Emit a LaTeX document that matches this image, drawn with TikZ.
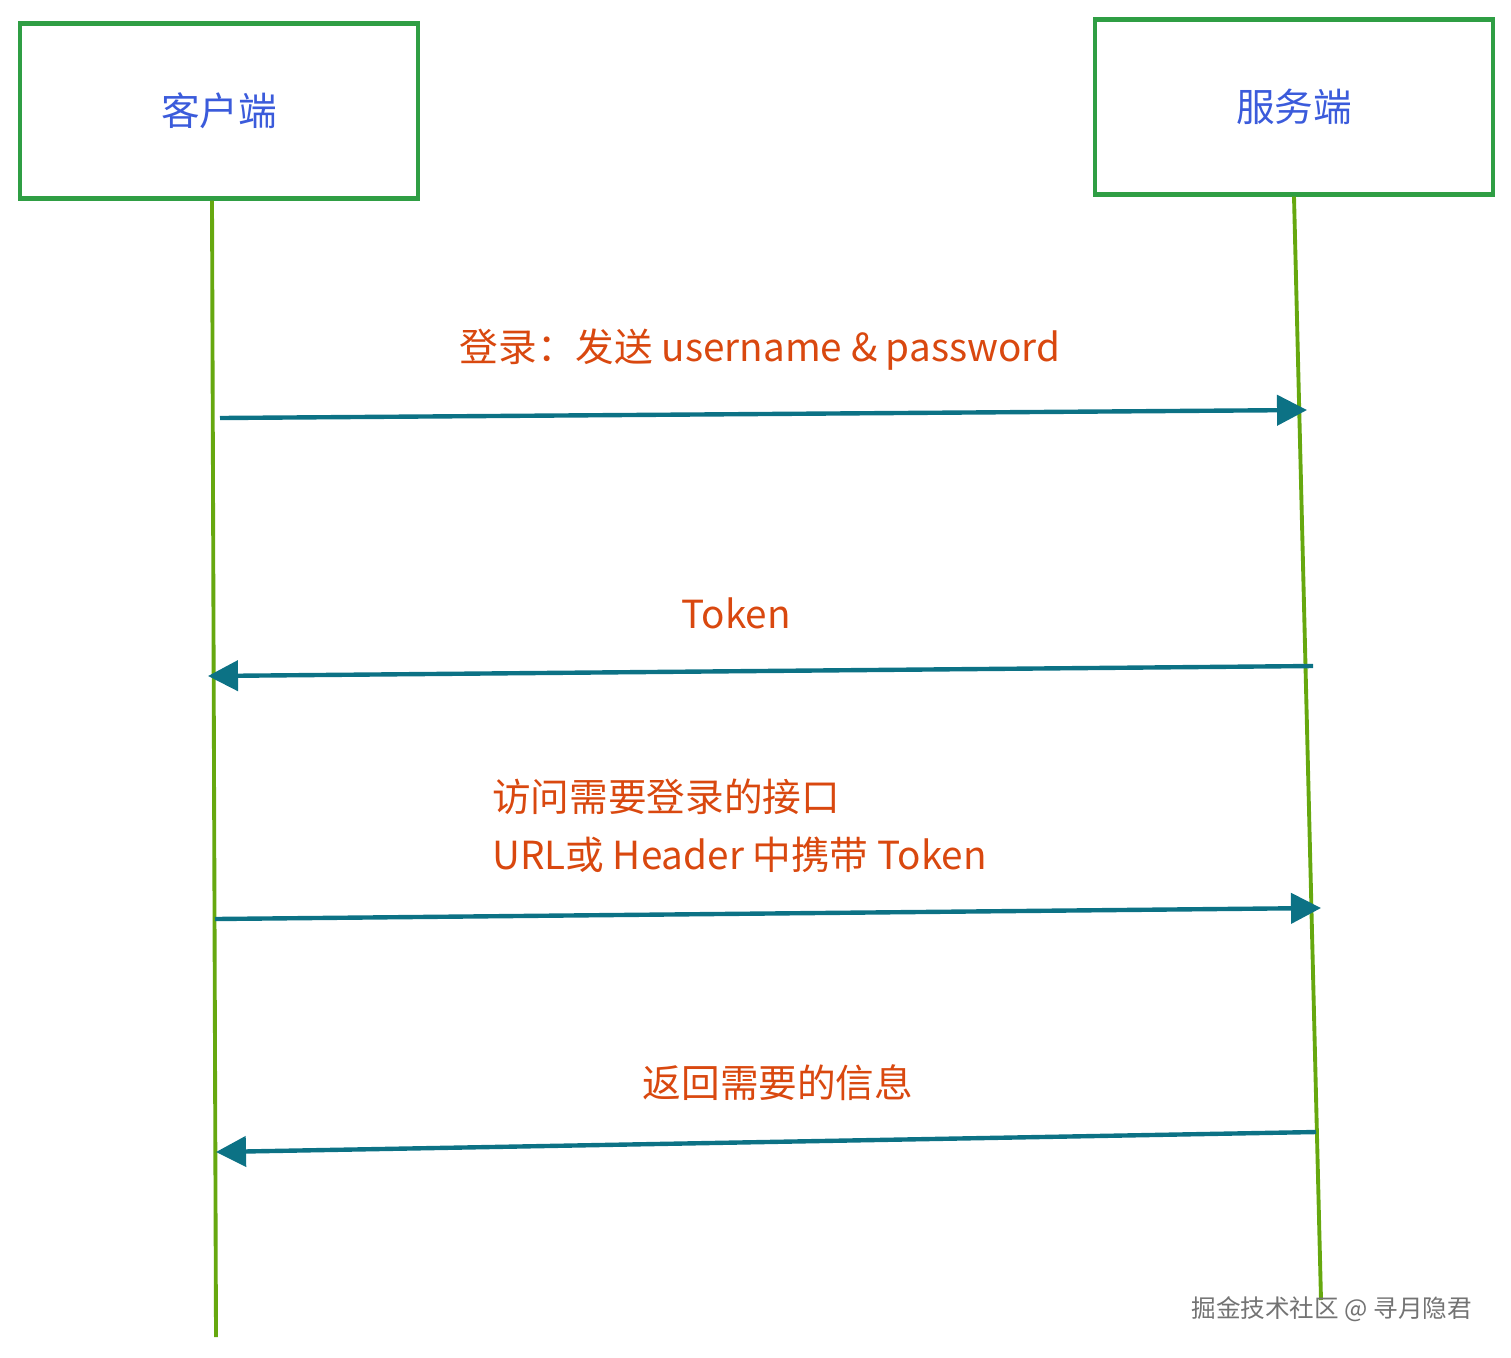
\documentclass[tikz,border=0pt]{standalone}
\usepackage{fontspec}
\setmainfont{Noto Sans CJK SC}
\usetikzlibrary{arrows.meta}
\definecolor{boxgreen}{HTML}{2F9E44}
\definecolor{lifegreen}{HTML}{66A80F}
\definecolor{msgteal}{HTML}{0C7285}
\definecolor{labelorange}{HTML}{D9480F}
\definecolor{namblue}{HTML}{3B5BDB}
\begin{document}
\begin{tikzpicture}[
  x=0.02cm, y=-0.02cm,
  party/.style={draw=boxgreen, line width=2.5pt, minimum width=7.96cm, minimum height=3.5cm, text=namblue, font=\fontsize{22}{26}\selectfont},
  life/.style={draw=lifegreen, line width=2.2pt},
  msg/.style={draw=msgteal, line width=2.5pt, -{Triangle[length=0.6cm, width=0.6cm]}},
  lbl/.style={text=labelorange, font=\fontsize{22}{33}\selectfont, align=left}
]
\useasboundingbox (0,0) rectangle (1511,1357);
\node[party] (client) at (219,111) {客户端};
\node[party] (server) at (1294,107) {服务端};
\coordinate (clientend) at (216,1337);
\coordinate (serverend) at (1321,1300);
\draw[life] ([xshift=-0.14cm]client.south) -- (clientend);
\draw[life] (server.south) -- (serverend);
% message end points
\coordinate (c1) at (220,418);
\coordinate (s1) at (1307,410);
\coordinate (s2) at (1313,666);
\coordinate (c2) at (208,676);
\coordinate (c3) at (215,919);
\coordinate (s3) at (1321,908);
\coordinate (s4) at (1316,1132);
\coordinate (c4) at (216,1152);
\draw[msg] (c1) -- (s1);
\draw[msg] (s2) -- (c2);
\draw[msg] (c3) -- (s3);
\draw[msg] (s4) -- (c4);
\node[lbl] (login) at (760,350) {登录：发送 username \& password};
\node[lbl] (token) at (736,613) {Token};
\node[lbl, anchor=west] (access) at (486,826) {访问需要登录的接口\\URL或 Header 中携带 Token};
\node[lbl] (reply) at (778,1083) {返回需要的信息};
\node[text=gray!90!black, font=\fontsize{14}{16}\selectfont, anchor=east] (mark) at (1478,1309) {掘金技术社区 @ 寻月隐君};
\end{tikzpicture}
\end{document}
